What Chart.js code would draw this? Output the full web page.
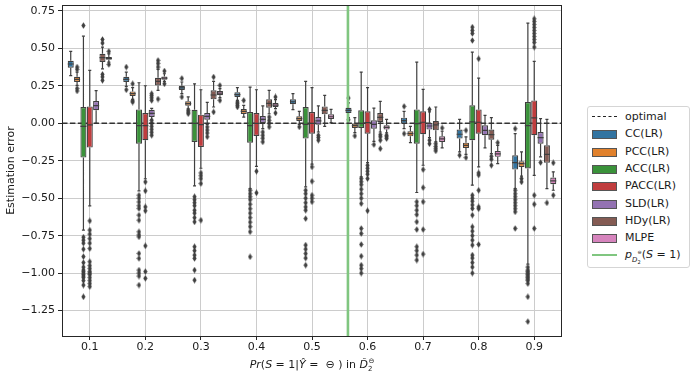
<!DOCTYPE html>
<html lang="en">
<head>
<meta charset="UTF-8">
<title>Estimation error</title>
<script src="https://cdn.jsdelivr.net/npm/chart.js"></script>
<style>
  body { margin: 0; background: #fff; font-family: "DejaVu Sans", sans-serif; color: #1a1a1a; }
  #wrap { position: relative; width: 697px; height: 379px; }
  #wrap canvas { position: absolute; left: 0; top: 0; }
  #legend { position: absolute; left: 587px; top: 106px; width: 103px; height: 162px;
            border: 1px solid #d5d5d5; border-radius: 3px; box-sizing: border-box; background: #fff; }
  .row { position: absolute; left: 0; height: 16px; line-height: 16px; font-size: 11px; white-space: nowrap; }
  .sw { position: absolute; left: 4px; top: 4px; width: 23px; height: 7px; border: 1px solid #555; }
  .ln { position: absolute; left: 4px; top: 7px; width: 25px; height: 0; }
  .tx { position: absolute; left: 37px; top: 0; }
  #xtitle { position: absolute; left: 62px; width: 500px; top: 358px; text-align: center; font-size: 11px; }
  sub, sup { font-size: 7px; line-height: 0; }
</style>
</head>
<body>
<div id="wrap">
  <canvas id="base" width="697" height="379"></canvas>
  <canvas id="boxes" width="697" height="379"></canvas>
  <canvas id="medians" width="697" height="379"></canvas>
  <div id="legend"></div>
  <div id="xtitle"><i>Pr</i>(<i>S</i> = 1|<i>Ŷ</i> = &nbsp;⊖ ) in <i>D̆</i><sub>2</sub><sup style="margin-left:-4px">⊖</sup></div>
</div>

<script>
// categories and series
const groups = ['0.1', '0.2', '0.3', '0.4', '0.5', '0.6', '0.7', '0.8', '0.9'];
const methods = ['CC(LR)', 'PCC(LR)', 'ACC(LR)', 'PACC(LR)', 'SLD(LR)', 'HDy(LR)', 'MLPE'];
const colors = ['#3274a1', '#e1812c', '#3a923a', '#c03d3e', '#9372b2', '#845b53', '#d684bd'];
const pLine = 0.5647; // p_D(S=1), vertical reference

// box stats, one row per method, one column per group
const q1 = [
  [0.371, 0.276, 0.222, 0.176, 0.127, 0.069, -0.002, -0.102, -0.309],
  [0.276, 0.182, 0.118, 0.062, 0.016, -0.031, -0.087, -0.164, -0.291],
  [-0.229, -0.136, -0.124, -0.129, -0.102, -0.031, -0.136, -0.113, -0.302],
  [-0.162, -0.113, -0.158, -0.084, -0.069, -0.069, -0.073, -0.069, -0.080],
  [0.087, 0.042, 0.024, 0.002, -0.009, -0.036, -0.042, -0.080, -0.136],
  [0.409, 0.253, 0.160, 0.104, 0.060, 0.009, -0.047, -0.109, -0.264],
  [0.424, 0.291, 0.187, 0.109, 0.029, -0.042, -0.124, -0.224, -0.407]
];
const med = [
  [0.396, 0.293, 0.236, 0.191, 0.144, 0.087, 0.018, -0.073, -0.262],
  [0.293, 0.198, 0.131, 0.080, 0.031, -0.016, -0.069, -0.147, -0.269],
  [-0.020, -0.016, 0.000, -0.016, -0.007, 0.000, -0.002, 0.009, -0.016],
  [-0.010, -0.016, -0.009, 0.000, 0.000, 0.004, 0.007, 0.007, 0.036],
  [0.118, 0.067, 0.047, 0.027, 0.016, -0.007, -0.018, -0.047, -0.096],
  [0.438, 0.280, 0.189, 0.133, 0.087, 0.040, -0.011, -0.076, -0.207],
  [0.433, 0.302, 0.202, 0.122, 0.044, -0.027, -0.104, -0.204, -0.384]
];
const q3 = [
  [0.418, 0.311, 0.251, 0.207, 0.160, 0.104, 0.038, -0.042, -0.213],
  [0.311, 0.213, 0.147, 0.096, 0.047, -0.002, -0.053, -0.129, -0.253],
  [0.109, 0.093, 0.091, 0.076, 0.109, 0.087, 0.093, 0.120, 0.142],
  [0.113, 0.069, 0.058, 0.069, 0.076, 0.080, 0.080, 0.093, 0.153],
  [0.149, 0.091, 0.069, 0.049, 0.042, 0.020, 0.004, -0.013, -0.058],
  [0.464, 0.304, 0.220, 0.160, 0.113, 0.069, 0.016, -0.042, -0.147],
  [0.442, 0.313, 0.216, 0.136, 0.060, -0.013, -0.087, -0.184, -0.362]
];
const whiskLo = [
  [0.318, 0.247, 0.198, 0.153, 0.091, 0.038, -0.036, -0.191, -0.436],
  [0.253, 0.160, 0.096, 0.042, -0.007, -0.062, -0.129, -0.207, -0.353],
  [-0.713, -0.451, -0.418, -0.436, -0.424, -0.358, -0.462, -0.413, -0.940],
  [-0.551, -0.370, -0.300, -0.287, -0.273, -0.262, -0.280, -0.291, -0.347],
  [0.000, 0.024, -0.007, -0.036, -0.058, -0.120, -0.096, -0.164, -0.224],
  [0.364, 0.220, 0.109, 0.064, -0.020, -0.058, -0.124, -0.202, -0.436],
  [0.409, 0.280, 0.171, 0.098, 0.004, -0.064, -0.164, -0.269, -0.447]
];
const whiskHi = [
  [0.480, 0.342, 0.276, 0.238, 0.198, 0.136, 0.080, 0.027, -0.069],
  [0.342, 0.238, 0.176, 0.120, 0.080, 0.038, -0.020, -0.090, -0.191],
  [0.582, 0.271, 0.264, 0.242, 0.280, 0.342, 0.409, 0.476, 0.669],
  [0.353, 0.251, 0.224, 0.224, 0.238, 0.238, 0.227, 0.302, 0.413],
  [0.218, 0.100, 0.140, 0.116, 0.116, 0.102, 0.076, 0.053, 0.031],
  [0.509, 0.360, 0.280, 0.220, 0.187, 0.147, 0.109, 0.038, 0.027],
  [0.464, 0.331, 0.231, 0.158, 0.093, 0.027, -0.053, -0.147, -0.324]
];
// outliers, [method][group] -> list of values
const fliers = [
  [[], [0.376, 0.224], [0.300, 0.176], [0.142, 0.131, 0.120, 0.109], [], [0.169, 0.024], [0.113, -0.069], [-0.213],
   [-0.036, -0.447, -0.47, -0.49, -0.51, -0.53, -0.55, -0.57, -0.591, -0.702]],
  [[0.376, 0.360, 0.233, 0.216], [0.264, 0.150, 0.142], [0.087, 0.075, 0.064], [0.153], [-0.024], [-0.084], [], [-0.047, -0.229],
   [-0.369, -0.391]],
  [[0.653, -0.76, -0.78, -0.80, -0.84, -0.89, -0.93, -0.96, -0.98, -0.99, -1.00, -1.01, -1.02, -1.03, -1.05, -1.08, -1.158],
   [-0.48, -0.50, -0.525, -0.55, -0.569, -0.613, -0.647, -0.724, -0.745, -0.758, -0.869, -0.902, -0.98, -1.00, -1.02, -1.08],
   [-0.49, -0.51, -0.53, -0.55, -0.58, -0.60, -0.63, -0.658, -0.824, -0.85, -0.88, -0.902, -0.98, -1.047],
   [-0.447, -0.47, -0.49, -0.51, -0.54, -0.57, -0.60, -0.63, -0.66, -0.69, -0.724, -0.891],
   [-0.447, -0.47, -0.50, -0.53, -0.558, -0.58, -0.636, -0.813, -0.84, -0.87, -0.90, -0.947],
   [-0.369, -0.39, -0.41, -0.44, -0.47, -0.50, -0.536, -0.702, -0.736, -0.809, -0.887, -0.947, -0.97, -1.00],
   [-0.524, -0.55, -0.58, -0.61, -0.658, -0.709, -0.824, -0.85, -0.88, -0.913],
   [0.642, 0.62, 0.60, 0.553, -0.48, -0.50, -0.52, -0.545, -0.569, -0.613, -0.691, -0.72, -0.75, -0.78, -0.813, -0.88, -0.90, -0.93, -0.96, -1.00],
   [-0.96, -0.98, -0.99, -1.00, -1.01, -1.02, -1.03, -1.04, -1.05, -1.07, -1.158, -1.324]],
  [[-0.651, -0.713, -0.74, -0.77, -0.80, -0.836, -0.924, -0.95, -0.97, -0.99, -1.00, -1.01, -1.03, -1.05, -1.07, -1.09],
   [-0.391, -0.451, -0.558, -0.584, -0.818, -0.99, -1.035],
   [-0.331, -0.35, -0.37, -0.402, -0.647],
   [-0.320, -0.464],
   [-0.291, -0.387, -0.48, -0.50, -0.524],
   [-0.28, -0.30, -0.32, -0.34, -0.369, -0.584],
   [-0.309, -0.429, -0.524, -0.709, -0.873],
   [0.431, -0.331, -0.345, -0.447, -0.558, -0.57, -0.809],
   [0.698, 0.68, 0.66, 0.64, 0.62, 0.60, 0.58, 0.56, 0.54, 0.509, -0.48, -0.54, -0.702]],
  [[], [0.198, 0.185, 0.170, 0.153, 0.02, 0.0, -0.02, -0.04, -0.06, -0.08], [-0.024, -0.045, -0.065, -0.09],
   [-0.058, -0.08, -0.10, -0.124], [-0.08, -0.095, -0.113], [-0.142], [0.093, -0.113, -0.136], [], [-0.262]],
  [[0.56, 0.536, 0.327, 0.31, 0.287], [0.42, 0.40, 0.376, 0.162], [0.309, 0.076], [0.042, 0.02, 0.0, -0.024], [],
   [-0.076, -0.09, -0.113, -0.169], [-0.136, -0.155, -0.17, -0.184], [-0.22, -0.24, -0.28], [-0.531]],
  [[0.48, 0.393], [0.349, 0.264], [0.253, 0.153], [0.176, 0.069], [], [-0.08, -0.09, -0.102], [-0.031], [-0.129], [-0.264, -0.48]]
];

const EDGE = '#3f3f3f';
const slot = 0.8 / methods.length;          // width of one box slot, in category units
const boxHalf = slot * 0.95 / 2;
const capHalf = boxHalf / 2;
const xAt = (g, m) => g + (m - (methods.length - 1) / 2) * slot;

// segments for whiskers, caps and medians (null y breaks the line)
const whiskerPts = [], capPts = [], medianPts = [], flierPts = [];
methods.forEach((name, m) => {
  groups.forEach((lab, g) => {
    const cx = xAt(g, m);
    whiskerPts.push({x: cx, y: whiskHi[m][g]}, {x: cx, y: q3[m][g]}, {x: cx, y: null});
    whiskerPts.push({x: cx, y: q1[m][g]}, {x: cx, y: whiskLo[m][g]}, {x: cx, y: null});
    capPts.push({x: cx - capHalf, y: whiskHi[m][g]}, {x: cx + capHalf, y: whiskHi[m][g]}, {x: cx, y: null});
    capPts.push({x: cx - capHalf, y: whiskLo[m][g]}, {x: cx + capHalf, y: whiskLo[m][g]}, {x: cx, y: null});
    medianPts.push({x: cx - boxHalf, y: med[m][g]}, {x: cx + boxHalf, y: med[m][g]}, {x: cx, y: null});
    fliers[m][g].forEach(v => flierPts.push({x: cx, y: v}));
  });
});

// thin diamond marker like matplotlib's 'd'
const diamond = document.createElement('canvas');
diamond.width = 5; diamond.height = 7;
(function () {
  const c = diamond.getContext('2d');
  c.fillStyle = EDGE;
  c.beginPath();
  c.moveTo(2.5, 0.3); c.lineTo(4.6, 3.5); c.lineTo(2.5, 6.7); c.lineTo(0.4, 3.5);
  c.closePath(); c.fill();
})();

const segStyle = {type: 'line', xAxisID: 'x2', borderColor: EDGE, borderWidth: 1.2,
                  pointRadius: 0, spanGaps: false, fill: false};

// full frame around the plot area
const frame = {
  id: 'frame',
  afterDraw(chart) {
    const {ctx, chartArea: a} = chart;
    ctx.save();
    ctx.strokeStyle = '#262626';
    ctx.lineWidth = 1;
    ctx.strokeRect(Math.round(a.left) + 0.5, Math.round(a.top) + 0.5,
                   Math.round(a.right - a.left) - 1, Math.round(a.bottom - a.top));
    ctx.restore();
  }
};

const fmt = v => (v < 0 ? '\u2212' : '') + Math.abs(v).toFixed(2);
const yTicks = [-1.25, -1.0, -0.75, -0.5, -0.25, 0, 0.25, 0.5, 0.75];

// same layout for every layer, so the plot areas line up; only the base layer shows axes
function layerOptions(showAxes) {
  const ink = showAxes ? '#1a1a1a' : 'rgba(0,0,0,0)';
  const gridCol = showAxes ? '#cccccc' : 'rgba(0,0,0,0)';
  const tickCol = showAxes ? '#262626' : 'rgba(0,0,0,0)';
  return {
    responsive: false,
    animation: false,
    events: [],
    layout: {padding: {left: 0, right: 135, top: 5, bottom: 23}},
    plugins: {legend: {display: false}, tooltip: {enabled: false}},
    scales: {
      x: {
        type: 'category', offset: true,
        grid: {offset: false, color: gridCol, tickColor: tickCol, tickLength: 4},
        border: {display: false},
        ticks: {font: {family: 'DejaVu Sans', size: 11}, color: ink, padding: 1, maxRotation: 0},
        afterFit: s => { s.height = 20; s.paddingLeft = 0; s.paddingRight = 0; }
      },
      x2: {type: 'linear', min: -0.5, max: groups.length - 0.5, offset: false, display: false},
      y: {
        type: 'linear', min: -1.42, max: 0.79, stacked: false,
        afterBuildTicks: s => { s.ticks = yTicks.map(v => ({value: v})); },
        grid: {color: gridCol, tickColor: tickCol, tickLength: 4},
        border: {display: false},
        ticks: {font: {family: 'DejaVu Sans', size: 11}, color: ink, padding: 3, callback: fmt},
        title: {display: true, text: 'Estimation error', font: {family: 'DejaVu Sans', size: 11},
                color: ink, padding: {top: 5, bottom: 2}},
        afterFit: s => { s.width = 62; s.paddingTop = 0; s.paddingBottom = 0; }
      }
    }
  };
}

// layer 1: grid, axes, reference lines, whiskers, caps, outliers
new Chart(document.getElementById('base'), {
  type: 'line',
  data: {
    labels: groups,
    datasets: [
      {type: 'line', label: 'optimal', xAxisID: 'x2',
       data: [{x: -0.5, y: 0}, {x: groups.length - 0.5, y: 0}],
       borderColor: '#333', borderWidth: 1.4, borderDash: [5.5, 2.4], pointRadius: 0},
      {type: 'line', label: 'pD', xAxisID: 'x2',
       data: [{x: (pLine - 0.1) / 0.1, y: -1.5}, {x: (pLine - 0.1) / 0.1, y: 0.9}],
       borderColor: '#80c680', borderWidth: 2.6, pointRadius: 0},
      Object.assign({label: 'whiskers', data: whiskerPts}, segStyle),
      Object.assign({label: 'caps', data: capPts}, segStyle),
      {type: 'scatter', label: 'fliers', xAxisID: 'x2', data: flierPts, pointStyle: diamond,
       pointRadius: 3, borderWidth: 0}
    ]
  },
  plugins: [frame],
  options: layerOptions(true)
});

// layer 2: the boxes (q1..q3) as grouped floating bars
new Chart(document.getElementById('boxes'), {
  type: 'bar',
  data: {
    labels: groups,
    datasets: methods.map((name, m) => ({
      label: name,
      data: q1[m].map((v, g) => [v, q3[m][g]]),
      backgroundColor: colors[m], borderColor: EDGE, borderWidth: 1.2, borderSkipped: false,
      categoryPercentage: 0.8, barPercentage: 0.95
    }))
  },
  options: layerOptions(false)
});

// layer 3: medians on top of the boxes
new Chart(document.getElementById('medians'), {
  type: 'line',
  data: {labels: groups, datasets: [Object.assign({label: 'medians', data: medianPts}, segStyle)]},
  options: layerOptions(false)
});

// legend, outside the plot on the right
const legend = document.getElementById('legend');
const rows = [['line', 'optimal', '#222', 'dashed']]
  .concat(methods.map((n, i) => ['box', n, colors[i]]))
  .concat([['line', '<i>p</i><sub><i>D</i><sub style="font-size:5px">2</sub></sub><sup style="margin-left:-3px;font-size:5px">⊖</sup>(<i>S</i> = 1)', '#80c680', 'solid']]);
rows.forEach((r, i) => {
  const d = document.createElement('div');
  d.className = 'row';
  d.style.top = (2 + i * 17.3) + 'px';
  const mark = r[0] === 'box'
    ? '<span class="sw" style="background:' + r[2] + '"></span>'
    : '<span class="ln" style="border-top:' + (r[3] === 'dashed' ? '1.5px dashed ' : '2.5px solid ') + r[2] + '"></span>';
  d.innerHTML = mark + '<span class="tx">' + r[1] + '</span>';
  legend.appendChild(d);
});
</script>
</body>
</html>
